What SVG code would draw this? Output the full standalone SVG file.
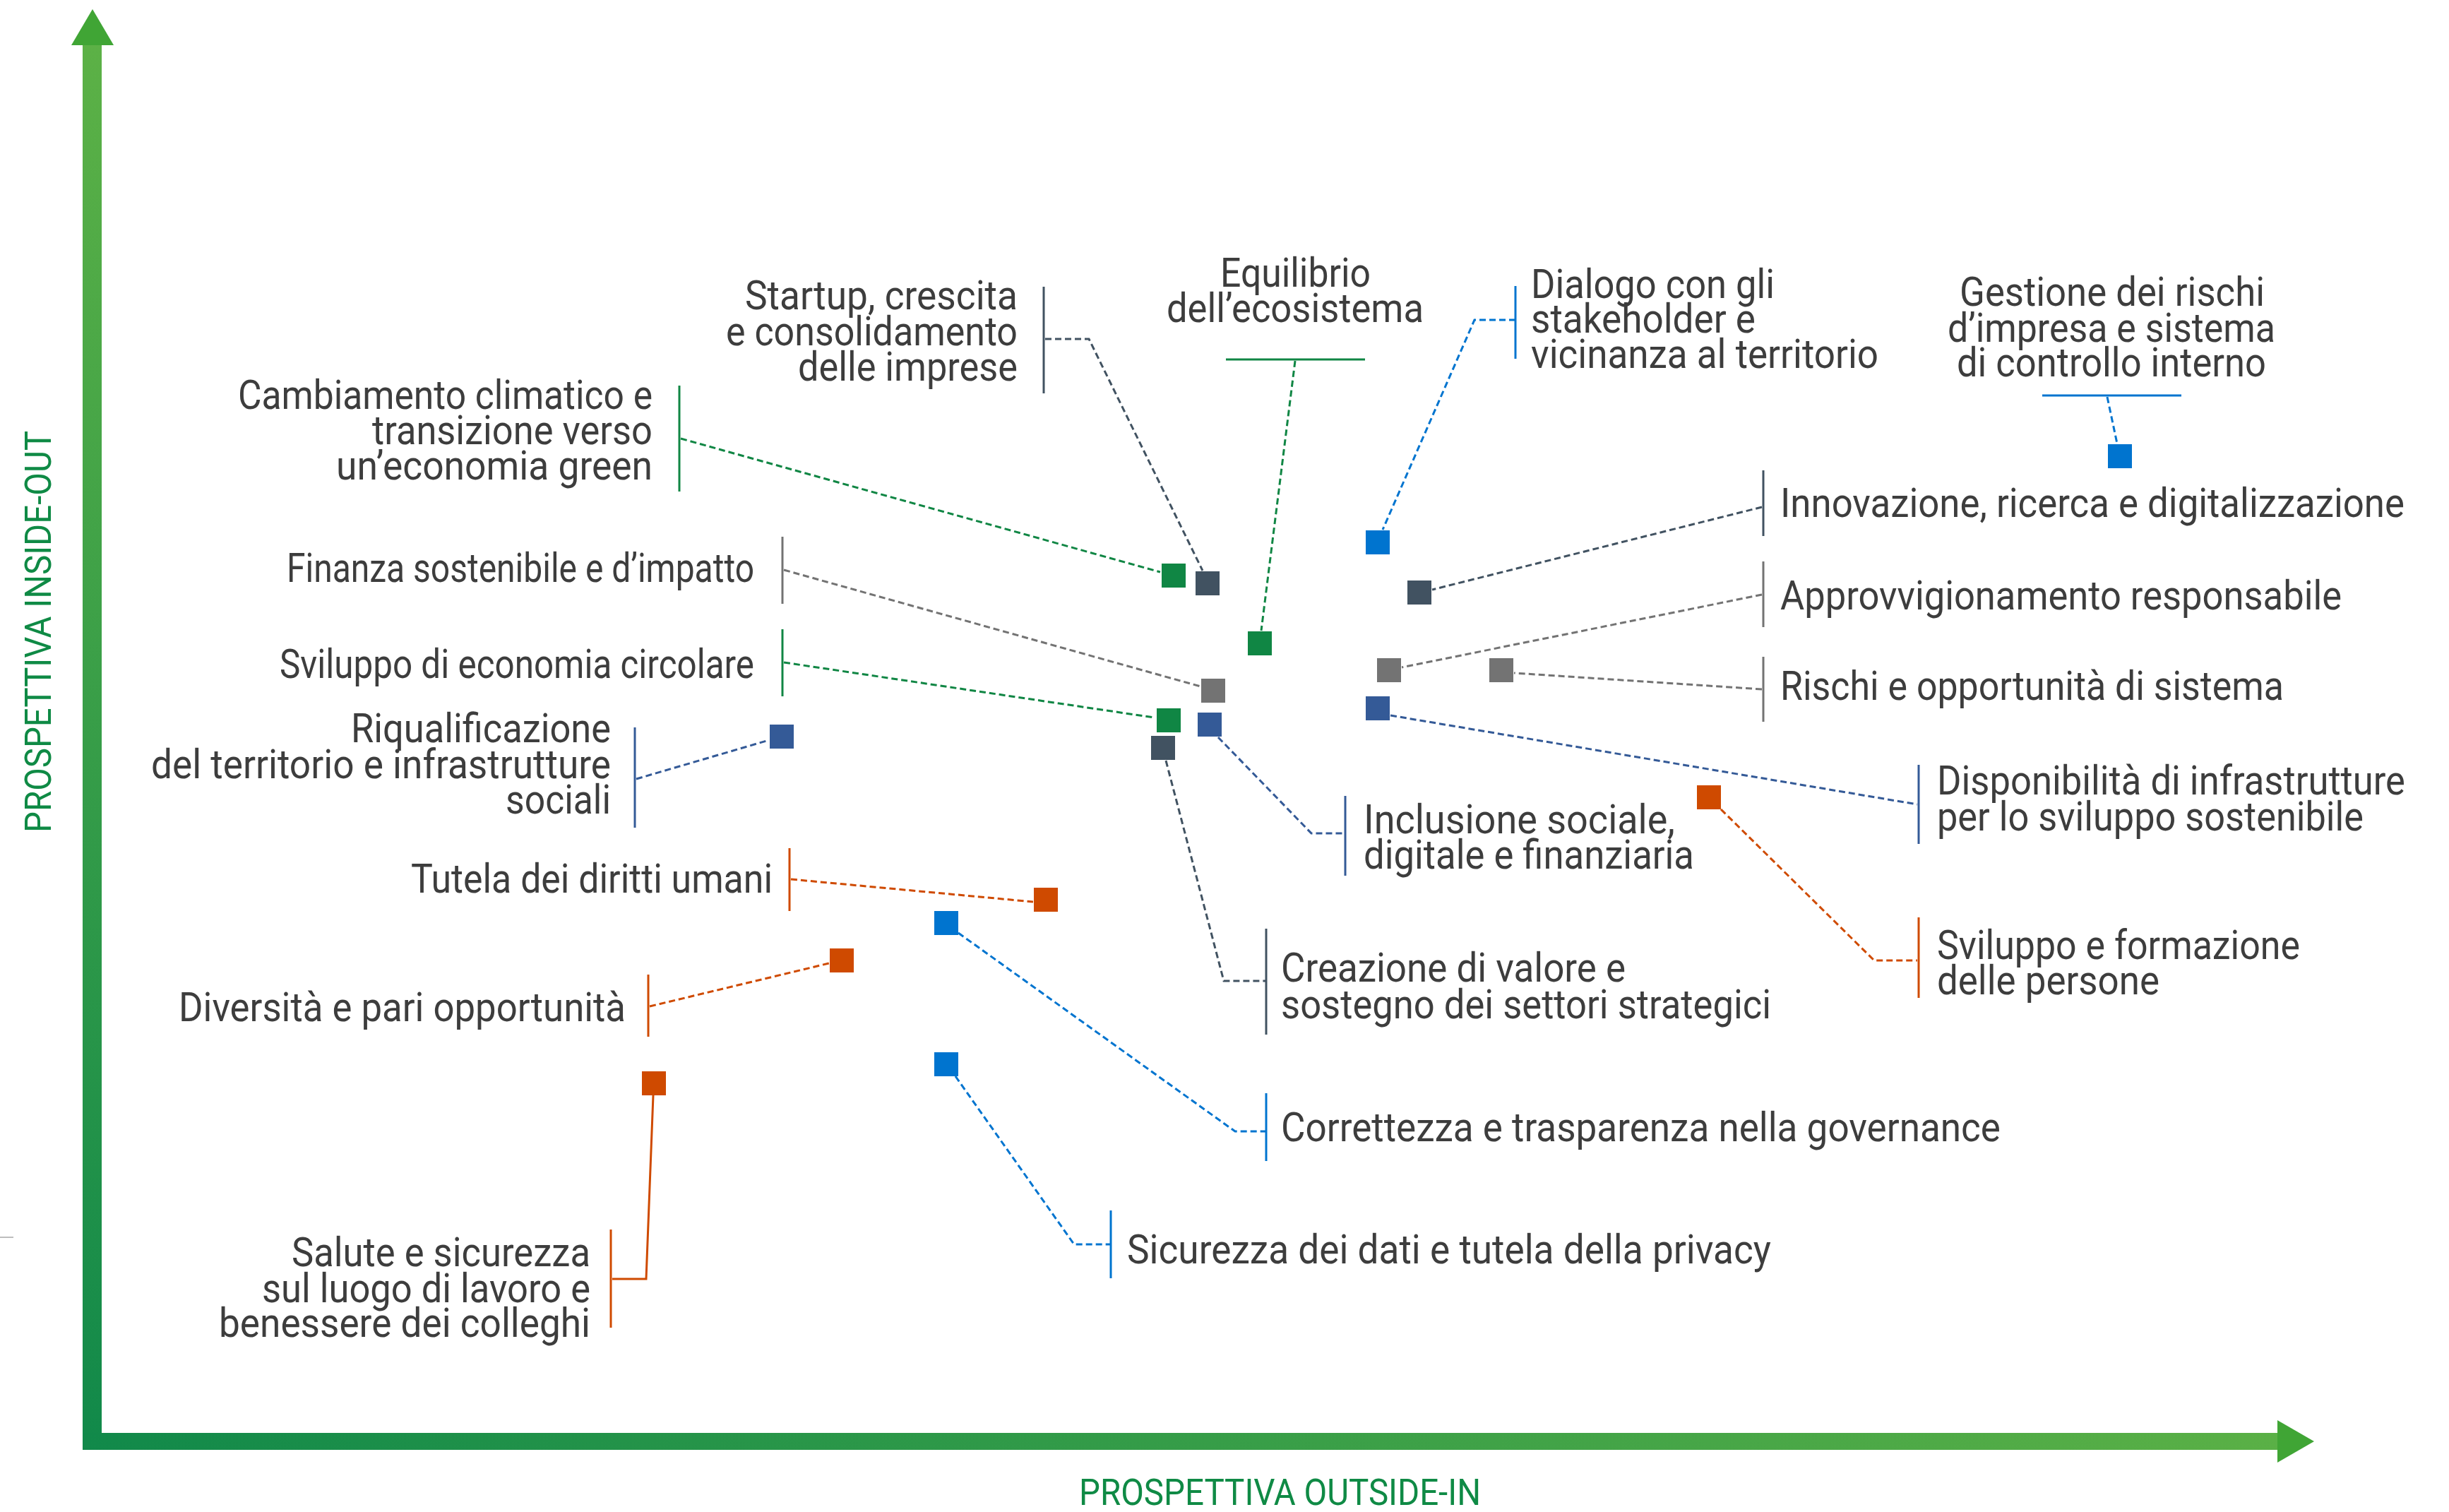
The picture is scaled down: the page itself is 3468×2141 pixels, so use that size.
<svg xmlns="http://www.w3.org/2000/svg" width="3468" height="2141" viewBox="0 0 3468 2141">
<style>
text{font-family:"Roboto","Liberation Sans",sans-serif;font-size:57px;fill:#3d3d3d}
.ax{font-size:52px;fill:#0f8a45}
.br{stroke-width:3;fill:none}
.cn{stroke-width:3;fill:none;stroke-dasharray:9 5}
.g{stroke:#108644}.gf{fill:#108644}
.s{stroke:#415261}.sf{fill:#415261}
.y{stroke:#737373}.yf{fill:#737373}
.b{stroke:#0074cf}.bf{fill:#0074cf}
.n{stroke:#345a97}.nf{fill:#345a97}
.o{stroke:#cf4a00}.of{fill:#cf4a00}
</style>
<defs>
<linearGradient id="gv" gradientUnits="userSpaceOnUse" x1="0" y1="64" x2="0" y2="2053">
<stop offset="0" stop-color="#5cb146"/><stop offset="1" stop-color="#11894a"/>
</linearGradient>
<linearGradient id="gh" gradientUnits="userSpaceOnUse" x1="117" y1="0" x2="3225" y2="0">
<stop offset="0" stop-color="#11894a"/><stop offset="1" stop-color="#5ab046"/>
</linearGradient>
</defs>
<rect width="3468" height="2141" fill="#fff"/>
<g id="axes">
<rect x="117" y="62" width="27" height="1991" fill="url(#gv)"/>
<rect x="117" y="2029" width="3110" height="24" fill="url(#gh)"/>
<polygon points="131,13 161,64 101,64" fill="#40a535"/>
<polygon points="3277,2041 3225,2011 3225,2071" fill="#40a535"/>
<text class="ax" transform="translate(72,1179) rotate(-90)" textLength="569" lengthAdjust="spacingAndGlyphs">PROSPETTIVA INSIDE-OUT</text>
<text class="ax" x="1528" y="2131" textLength="569" lengthAdjust="spacingAndGlyphs">PROSPETTIVA OUTSIDE-IN</text>
<line x1="0" y1="1752" x2="19" y2="1752" stroke="#bdbdbd" stroke-width="2"/>
</g>
<g id="connectors">
<path class="cn s" d="M1480,480 H1542 L1703,808"/>
<path class="cn g" d="M1834,511 L1786,893"/>
<path class="cn b" d="M2146,453 H2088 L1958,750"/>
<path class="cn b" d="M2984,562 L2998,628"/>
<path class="cn g" d="M964,621 L1643,810"/>
<path class="cn s" d="M2495,718 L2028,835"/>
<path class="cn y" d="M1110,807 L1700,972"/>
<path class="cn y" d="M2495,842 L1985,945"/>
<path class="cn y" d="M2495,976 L2144,953"/>
<path class="cn g" d="M1110,938 L1634,1016"/>
<path class="cn n" d="M901,1103 L1089,1048"/>
<path class="cn n" d="M1725,1044 L1857,1180 H1904"/>
<path class="cn n" d="M1969,1013 L2715,1139"/>
<path class="cn s" d="M1651,1077 L1733,1389 H1792"/>
<path class="cn o" d="M2437,1146 L2654,1360 H2715"/>
<path class="cn o" d="M1120,1245 L1463,1277"/>
<path class="cn o" d="M920,1425 L1174,1364"/>
<path class="cn b" d="M1357,1321 L1749,1602 H1792"/>
<path class="cn b" d="M1353,1524 L1521,1762 H1572"/>
<path class="br o" d="M867,1811 H915 L925,1551"/>
</g>
<g id="startup">
<text x="1055" y="438" textLength="386" lengthAdjust="spacingAndGlyphs">Startup, crescita</text>
<text x="1028" y="489" textLength="413" lengthAdjust="spacingAndGlyphs">e consolidamento</text>
<text x="1130" y="539" textLength="311" lengthAdjust="spacingAndGlyphs">delle imprese</text>
<line class="br s" x1="1478" y1="406" x2="1478" y2="557"/>
<rect class="sf" x="1693" y="809" width="34" height="34"/>
</g>
<g id="equilibrio">
<text x="1728" y="406" textLength="213" lengthAdjust="spacingAndGlyphs">Equilibrio</text>
<text x="1652" y="456" textLength="364" lengthAdjust="spacingAndGlyphs">dell’ecosistema</text>
<line class="br g" x1="1736" y1="509" x2="1933" y2="509"/>
<rect class="gf" x="1767" y="894" width="34" height="34"/>
</g>
<g id="dialogo">
<text x="2168" y="422" textLength="345" lengthAdjust="spacingAndGlyphs">Dialogo con gli</text>
<text x="2168" y="471" textLength="318" lengthAdjust="spacingAndGlyphs">stakeholder e</text>
<text x="2168" y="521" textLength="492" lengthAdjust="spacingAndGlyphs">vicinanza al territorio</text>
<line class="br b" x1="2146" y1="405" x2="2146" y2="508"/>
<rect class="bf" x="1934" y="751" width="34" height="34"/>
</g>
<g id="gestione">
<text x="2775" y="433" textLength="432" lengthAdjust="spacingAndGlyphs">Gestione dei rischi</text>
<text x="2758" y="484" textLength="464" lengthAdjust="spacingAndGlyphs">d’impresa e sistema</text>
<text x="2771" y="533" textLength="438" lengthAdjust="spacingAndGlyphs">di controllo interno</text>
<line class="br b" x1="2892" y1="560" x2="3089" y2="560"/>
<rect class="bf" x="2985" y="629" width="34" height="34"/>
</g>
<g id="innovazione">
<text x="2521" y="732" textLength="884" lengthAdjust="spacingAndGlyphs">Innovazione, ricerca e digitalizzazione</text>
<line class="br s" x1="2497" y1="666" x2="2497" y2="759"/>
<rect class="sf" x="1993" y="822" width="34" height="34"/>
</g>
<g id="approvvigionamento">
<text x="2521" y="863" textLength="795" lengthAdjust="spacingAndGlyphs">Approvvigionamento responsabile</text>
<line class="br y" x1="2497" y1="795" x2="2497" y2="888"/>
<rect class="yf" x="1950" y="932" width="34" height="34"/>
</g>
<g id="rischi">
<text x="2521" y="991" textLength="713" lengthAdjust="spacingAndGlyphs">Rischi e opportunità di sistema</text>
<line class="br y" x1="2497" y1="930" x2="2497" y2="1022"/>
<rect class="yf" x="2109" y="932" width="34" height="34"/>
</g>
<g id="disponibilita">
<text x="2743" y="1125" textLength="663" lengthAdjust="spacingAndGlyphs">Disponibilità di infrastrutture</text>
<text x="2743" y="1176" textLength="604" lengthAdjust="spacingAndGlyphs">per lo sviluppo sostenibile</text>
<line class="br n" x1="2717" y1="1083" x2="2717" y2="1195"/>
<rect class="nf" x="1934" y="986" width="34" height="34"/>
</g>
<g id="sviluppo-formazione">
<text x="2743" y="1358" textLength="514" lengthAdjust="spacingAndGlyphs">Sviluppo e formazione</text>
<text x="2743" y="1408" textLength="315" lengthAdjust="spacingAndGlyphs">delle persone</text>
<line class="br o" x1="2717" y1="1299" x2="2717" y2="1413"/>
<rect class="of" x="2403" y="1112" width="34" height="34"/>
</g>
<g id="inclusione">
<text x="1931" y="1180" textLength="441" lengthAdjust="spacingAndGlyphs">Inclusione sociale,</text>
<text x="1931" y="1230" textLength="468" lengthAdjust="spacingAndGlyphs">digitale e finanziaria</text>
<line class="br n" x1="1905" y1="1127" x2="1905" y2="1240"/>
<rect class="nf" x="1696" y="1009" width="34" height="34"/>
</g>
<g id="creazione">
<text x="1814" y="1390" textLength="488" lengthAdjust="spacingAndGlyphs">Creazione di valore e</text>
<text x="1814" y="1442" textLength="694" lengthAdjust="spacingAndGlyphs">sostegno dei settori strategici</text>
<line class="br s" x1="1793" y1="1315" x2="1793" y2="1465"/>
<rect class="sf" x="1630" y="1042" width="34" height="34"/>
</g>
<g id="correttezza">
<text x="1814" y="1616" textLength="1019" lengthAdjust="spacingAndGlyphs">Correttezza e trasparenza nella governance</text>
<line class="br b" x1="1793" y1="1548" x2="1793" y2="1644"/>
<rect class="bf" x="1323" y="1290" width="34" height="34"/>
</g>
<g id="sicurezza">
<text x="1596" y="1789" textLength="912" lengthAdjust="spacingAndGlyphs">Sicurezza dei dati e tutela della privacy</text>
<line class="br b" x1="1573" y1="1714" x2="1573" y2="1810"/>
<rect class="bf" x="1323" y="1490" width="34" height="34"/>
</g>
<g id="cambiamento">
<text x="337" y="579" textLength="587" lengthAdjust="spacingAndGlyphs">Cambiamento climatico e</text>
<text x="527" y="629" textLength="397" lengthAdjust="spacingAndGlyphs">transizione verso</text>
<text x="476" y="679" textLength="448" lengthAdjust="spacingAndGlyphs">un’economia green</text>
<line class="br g" x1="962" y1="546" x2="962" y2="696"/>
<rect class="gf" x="1645" y="798" width="34" height="34"/>
</g>
<g id="finanza">
<text x="406" y="824" textLength="662" lengthAdjust="spacingAndGlyphs">Finanza sostenibile e d’impatto</text>
<line class="br y" x1="1108" y1="760" x2="1108" y2="855"/>
<rect class="yf" x="1701" y="961" width="34" height="34"/>
</g>
<g id="economia-circolare">
<text x="396" y="960" textLength="672" lengthAdjust="spacingAndGlyphs">Sviluppo di economia circolare</text>
<line class="br g" x1="1108" y1="891" x2="1108" y2="986"/>
<rect class="gf" x="1638" y="1003" width="34" height="34"/>
</g>
<g id="riqualificazione">
<text x="497" y="1051" textLength="368" lengthAdjust="spacingAndGlyphs">Riqualificazione</text>
<text x="214" y="1102" textLength="651" lengthAdjust="spacingAndGlyphs">del territorio e infrastrutture</text>
<text x="716" y="1152" textLength="149" lengthAdjust="spacingAndGlyphs">sociali</text>
<line class="br n" x1="899" y1="1030" x2="899" y2="1172"/>
<rect class="nf" x="1090" y="1026" width="34" height="34"/>
</g>
<g id="tutela">
<text x="582" y="1264" textLength="512" lengthAdjust="spacingAndGlyphs">Tutela dei diritti umani</text>
<line class="br o" x1="1118" y1="1201" x2="1118" y2="1290"/>
<rect class="of" x="1464" y="1257" width="34" height="34"/>
</g>
<g id="diversita">
<text x="253" y="1446" textLength="633" lengthAdjust="spacingAndGlyphs">Diversità e pari opportunità</text>
<line class="br o" x1="918" y1="1380" x2="918" y2="1468"/>
<rect class="of" x="1175" y="1343" width="34" height="34"/>
</g>
<g id="salute">
<text x="413" y="1793" textLength="423" lengthAdjust="spacingAndGlyphs">Salute e sicurezza</text>
<text x="371" y="1844" textLength="465" lengthAdjust="spacingAndGlyphs">sul luogo di lavoro e</text>
<text x="310" y="1893" textLength="526" lengthAdjust="spacingAndGlyphs">benessere dei colleghi</text>
<line class="br o" x1="865" y1="1741" x2="865" y2="1880"/>
<rect class="of" x="909" y="1517" width="34" height="34"/>
</g>
</svg>
